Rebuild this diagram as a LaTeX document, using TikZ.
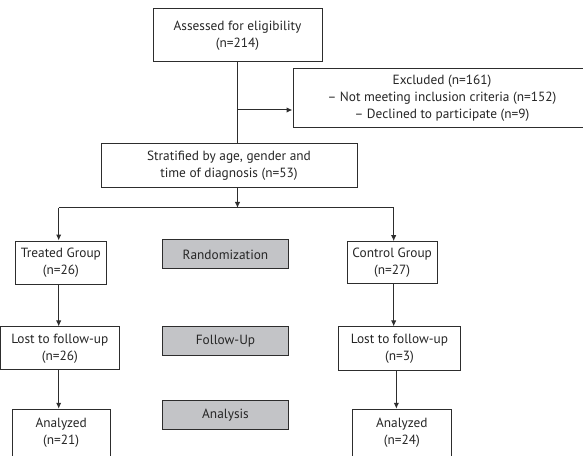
\documentclass[tikz,border=0pt]{standalone}
\usepackage{fontspec}
\setmainfont{PT Sans}
\usetikzlibrary{arrows.meta}
\definecolor{phasegray}{RGB}{195,196,199}
\definecolor{linegray}{RGB}{45,45,45}

\begin{document}
\begin{tikzpicture}[x=0.75pt,y=0.75pt,yscale=-1,xscale=1,
        every node/.style={font=\fontsize{10}{12.75}\selectfont, text=black!85},
        flowbox/.style={draw=linegray, line width=0.75pt, fill=white, align=center, inner sep=0pt},
        phasebox/.style={flowbox, fill=phasegray},
        arr/.style={draw=linegray, line width=0.75pt, -{Latex[length=4.5pt,width=4pt]}},
        ln/.style={draw=linegray, line width=0.75pt}]
        \useasboundingbox (0,0) rectangle (583,456);

        % Text Node
        \node [flowbox, minimum width=126.75pt, minimum height=39.75pt] (assess) at (237.5,35.5) {Assessed for eligibility\\(n=214)};
        % Text Node
        \node [flowbox, minimum width=223.5pt, minimum height=44.25pt] (excl) at (442,98.5) {Excluded (n=161)\\-- Not meeting inclusion criteria (n=152)\\-- Declined to participate (n=9)};
        % Text Node
        \node [flowbox, minimum width=192pt, minimum height=33pt] (strat) at (229,166) {Stratified by age, gender and\\time of diagnosis (n=53)};
        % Text Node
        \node [flowbox, minimum width=67.7pt, minimum height=32.5pt] (treat) at (60.9,262.7) {Treated Group\\(n=26)};
        % Text Node
        \node [flowbox, minimum width=67.3pt, minimum height=31.2pt] (ctrl) at (392.2,262.5) {Control Group\\(n=27)};
        % Text Node
        \node [flowbox, minimum width=88.95pt, minimum height=32.25pt] (lostL) at (59.8,348.5) {Lost to follow-up\\(n=26)};
        % Text Node
        \node [flowbox, minimum width=91.2pt, minimum height=32.8pt] (lostR) at (399.5,348.8) {Lost to follow-up\\(n=3)};
        % Text Node
        \node [flowbox, minimum width=73.3pt, minimum height=35.6pt] (anaL) at (61.2,433) {Analyzed\\(n=21)};
        % Text Node
        \node [flowbox, minimum width=74.25pt, minimum height=35.6pt] (anaR) at (401.8,433) {Analyzed\\(n=24)};

        %Shape: Rectangle
        \node [phasebox, minimum width=94.2pt, minimum height=21.75pt] (rand) at (225.5,254.5) {Randomization};
        %Shape: Rectangle
        \node [phasebox, minimum width=94.2pt, minimum height=21.75pt] (follow) at (225.5,341.2) {Follow-Up};
        %Shape: Rectangle
        \node [phasebox, minimum width=94.2pt, minimum height=22pt] (analysis) at (225.5,414.7) {Analysis};

        \coordinate (split) at (237.5,110);
        \coordinate (bar) at (237.5,208);
        \coordinate (barL) at (58.7,208);
        \coordinate (barR) at (393.7,208);

        %Straight Lines
        \draw [ln] (assess.south) -- (assess.south |- strat.north);
        \draw [arr] (split) -- (split -| excl.west);
        \draw [arr] (bar |- strat.south) -- (bar);
        \draw [ln] (barL) -- (barR);
        \draw [arr] (barL) -- (barL |- treat.north);
        \draw [arr] (barR) -- (barR |- ctrl.north);
        %Straight Lines
        \draw [arr] (barL |- treat.south) -- (barL |- lostL.north);
        \draw [arr] (barL |- lostL.south) -- (barL |- anaL.north);
        \draw [arr] (barR |- ctrl.south) -- (barR |- lostR.north);
        \draw [arr] ([xshift=2pt]barR |- lostR.south) -- ([xshift=2pt]barR |- anaR.north);

\end{tikzpicture}
\end{document}
